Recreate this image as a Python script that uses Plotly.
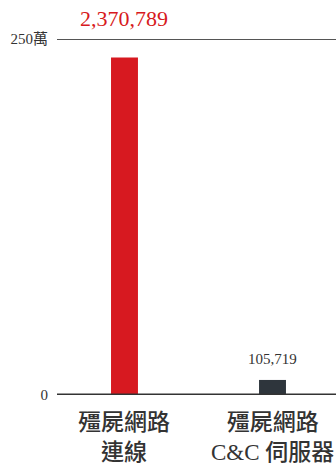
import plotly.graph_objects as go

# Botnet counts
categories = ["殭屍網路<br>連線", "殭屍網路<br>C&C 伺服器"]
values = [2370789, 105719]
bar_colors = ["#d71920", "#2e353c"]
label_colors = ["#d71920", "#333333"]
label_sizes = [22, 15]
label_shifts = [24, 11]

tick_vals = [0, 2500000]
tick_text = ["0", "250萬"]

serif = "Liberation Serif, Times New Roman, Noto Sans CJK TC, serif"

fig = go.Figure()
fig.add_trace(go.Bar(
    x=[0, 1], y=values,
    marker=dict(color=bar_colors, line=dict(width=0)),
    width=0.182,
    hoverinfo="skip",
))

# Value labels above bars
for i, v in enumerate(values):
    fig.add_annotation(
        x=i, y=v, text=f"{v:,}", showarrow=False,
        yanchor="bottom", yshift=label_shifts[i],
        font=dict(family=serif, size=label_sizes[i], color=label_colors[i]),
    )

# Category labels under the baseline (allowed to run past the right edge)
for i, c in enumerate(categories):
    fig.add_annotation(
        x=i, y=0, text=c, showarrow=False,
        yanchor="top", yshift=-13, align="center",
        font=dict(family=serif, size=23, color="#333333", weight=500),
    )

# Baseline and top reference line
fig.add_shape(type="line", xref="paper", x0=0, x1=1, y0=tick_vals[1], y1=tick_vals[1],
              line=dict(color="#555555", width=2))
fig.add_shape(type="line", xref="paper", x0=0, x1=1, y0=0, y1=0,
              line=dict(color="#333333", width=3))

fig.update_layout(
    width=336, height=464,
    margin=dict(l=57, r=0, t=39, b=69),
    paper_bgcolor="white", plot_bgcolor="white",
    showlegend=False,
    xaxis=dict(
        range=[-0.456, 1.429], showticklabels=False,
        showgrid=False, zeroline=False, showline=False, ticks="",
        fixedrange=True,
    ),
    yaxis=dict(
        range=[0, 2500000], tickmode="array", tickvals=tick_vals, ticktext=tick_text,
        showgrid=False, zeroline=False, showline=False, ticks="",
        ticklabelstandoff=8,
        tickfont=dict(family=serif, size=15, color="#333333"),
        fixedrange=True,
    ),
)

fig.write_html("out.html", config={"displayModeBar": False})
